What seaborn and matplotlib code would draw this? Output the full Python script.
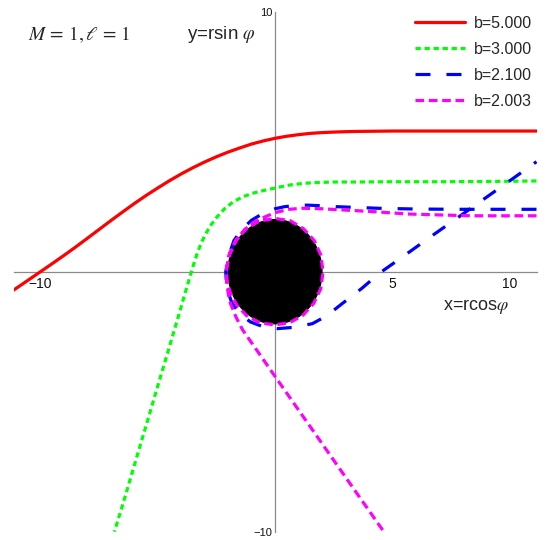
import matplotlib
matplotlib.use("Agg")
import matplotlib.pyplot as plt
import pandas as pd
import seaborn as sns

# light trajectories, x = r cos(phi), y = r sin(phi)
b_labels = ["b=5.000", "b=3.000", "b=2.100", "b=2.003"]

red_x = [-11.15, -10.5, -10.0, -9.5, -9.0, -8.5, -8.0, -7.5, -7.0, -6.5, -6.0, -5.5, -5.0,
         -4.5, -4.0, -3.5, -3.0, -2.5, -2.0, -1.5, -1.0, -0.5, 0.0, 0.5, 1.0, 1.5, 2.0,
         2.5, 3.0, 3.5, 4.0, 5.0, 6.0, 8.0, 11.15]
red_y = [-0.71, -0.31, 0.0, 0.31, 0.625, 0.95, 1.285, 1.625, 1.965, 2.295, 2.62, 2.93, 3.22,
         3.50, 3.76, 4.00, 4.22, 4.42, 4.60, 4.76, 4.91, 5.03, 5.13, 5.21, 5.27, 5.32, 5.35,
         5.37, 5.385, 5.395, 5.40, 5.41, 5.41, 5.41, 5.41]

green_x = [11.15, 9.0, 7.0, 5.0, 3.5, 2.5, 1.8, 1.23, 0.6, 0.06, -0.4, -0.9, -1.35, -1.76,
           -2.13, -2.46, -2.76, -2.99, -3.175, -3.325, -3.455, -3.577, -3.708, -3.84, -4.03,
           -4.5, -5.0, -5.5, -6.0, -6.5, -6.85]
green_y = [3.49, 3.47, 3.46, 3.46, 3.45, 3.45, 3.43, 3.40, 3.33, 3.23, 3.14, 3.03, 2.89, 2.70,
           2.44, 2.12, 1.76, 1.40, 1.04, 0.68, 0.32, -0.04, -0.44, -0.84, -1.44,
           -2.88, -4.40, -5.93, -7.45, -8.98, -10.0]

blue_x = [11.15, 9.5, 7.9, 6.0, 4.4, 2.65, 1.9, 1.37, 0.9, 0.4, 0.0, -0.5, -1.0, -1.4, -1.75,
          -1.98, -2.1, -2.06, -1.85, -1.5, -1.05, -0.5, 0.1, 0.8, 1.59, 2.2, 2.79, 3.69, 4.45,
          5.5, 6.63, 7.7, 8.76, 10.0, 11.15]
blue_y = [2.40, 2.40, 2.40, 2.41, 2.44, 2.50, 2.54, 2.56, 2.55, 2.50, 2.42, 2.25, 1.98, 1.64,
          1.2, 0.6, 0.0, -0.6, -1.18, -1.62, -1.93, -2.12, -2.19, -2.14, -2.0, -1.7, -1.28,
          -0.65, -0.06, 0.61, 1.34, 2.02, 2.70, 3.49, 4.23]

magenta_x = [11.15, 9.5, 8.47, 7.14, 5.65, 4.2, 3.0, 2.0, 1.2, 0.6, 0.0, -0.45, -0.85, -1.3,
             -1.65, -1.92, -2.07, -2.05, -1.9, -1.62, -1.2, -0.65, 0.0, 0.65, 1.2, 1.65, 1.95,
             2.05, 1.95, 1.67, 1.22, 0.65, 0.0, -0.65, -1.22, -1.68, -1.96, -2.08, -2.05,
             -1.98, -1.9, -1.66, -1.38, -0.83, -0.05, 1.09, 2.51, 3.65, 4.64]
magenta_y = [2.15, 2.15, 2.15, 2.18, 2.22, 2.31, 2.37, 2.42, 2.44, 2.40, 2.27, 2.1, 1.92, 1.62,
             1.2, 0.7, 0.15, -0.35, -0.82, -1.3, -1.7, -1.96, -2.05, -1.95, -1.67, -1.22, -0.66,
             0.0, 0.65, 1.2, 1.65, 1.96, 2.05, 1.95, 1.66, 1.2, 0.65, 0.0, -0.5,
             -0.9, -1.22, -1.75, -2.24, -2.95, -3.96, -5.43, -7.26, -8.73, -10.0]

horizon_r = 2.0

sns.set_style("white")
plt.rcParams["font.family"] = ["Liberation Sans", "DejaVu Sans"]
plt.rcParams["mathtext.fontset"] = "stix"
plt.rcParams["lines.scale_dashes"] = False

fig = plt.figure(figsize=(5.46, 5.40), dpi=100)
ax = fig.add_axes([13.5 / 546, 8.3 / 540, 523 / 546, 520 / 540])

series = [
    (red_x, red_y, "#ff0000", "-"),
    (green_x, green_y, "#00ff00", (0, (3.8, 2.7))),
    (blue_x, blue_y, "#0000ff", (0, (10.8, 11.5))),
    (magenta_x, magenta_y, "#ff00ff", (0, (6.2, 3.4))),
]
for (xs, ys, col, ls), lab in zip(series, b_labels):
    df = pd.DataFrame({"x": xs, "y": ys})
    sns.lineplot(data=df, x="x", y="y", sort=False, estimator=None, ax=ax,
                 color=col, linestyle=ls, linewidth=2.3, label=lab, zorder=4,
                 solid_joinstyle="round", dash_joinstyle="round")

# black hole
ax.add_patch(plt.Circle((0, 0), horizon_r, color="black", zorder=3))

ax.set_xlim(-11.15, 11.15)
ax.set_ylim(-10, 10)
ax.set_xlabel("")
ax.set_ylabel("")

for side in ["top", "right"]:
    ax.spines[side].set_visible(False)
for side in ["left", "bottom"]:
    ax.spines[side].set_position(("data", 0))
    ax.spines[side].set_color("#8a8a8a")
    ax.spines[side].set_linewidth(0.9)

ax.set_xticks([-10, -5, 5, 10])
ax.set_xticklabels(["\u221210", "", "5", "10"])
ax.set_xticks(range(-11, 12), minor=True)
ax.set_yticks([-10, -5, 5, 10])
ax.set_yticklabels(["\u221210", "", "", "10"])
ax.set_yticks(range(-10, 11), minor=True)
ax.tick_params(which="both", direction="in", color="#8a8a8a", width=0.9)
ax.tick_params(which="major", length=3.8)
ax.tick_params(which="minor", length=2.2)
ax.tick_params(axis="x", labelsize=10, pad=4, labelcolor="#111111")
ax.tick_params(axis="y", labelsize=8, pad=2, labelcolor="#111111")

ax.text(10.0, -1.34, r"x=rcos$\varphi$", fontsize=13, ha="right", va="center")
ax.text(-0.8, 9.13, r"y=rsin $\varphi$", fontsize=13.5, ha="right", va="center")
ax.text(-10.55, 9.13, r"$M\,=\,1,\ell\,=\,1$", fontsize=14, ha="left", va="center")

ax.legend(loc="upper right", bbox_to_anchor=(0.975, 0.971), bbox_transform=fig.transFigure,
          frameon=False, fontsize=11.5, handlelength=3.1, handletextpad=0.6,
          labelspacing=0.69, borderaxespad=0, borderpad=0)

fig.savefig("out.png", dpi=100)
